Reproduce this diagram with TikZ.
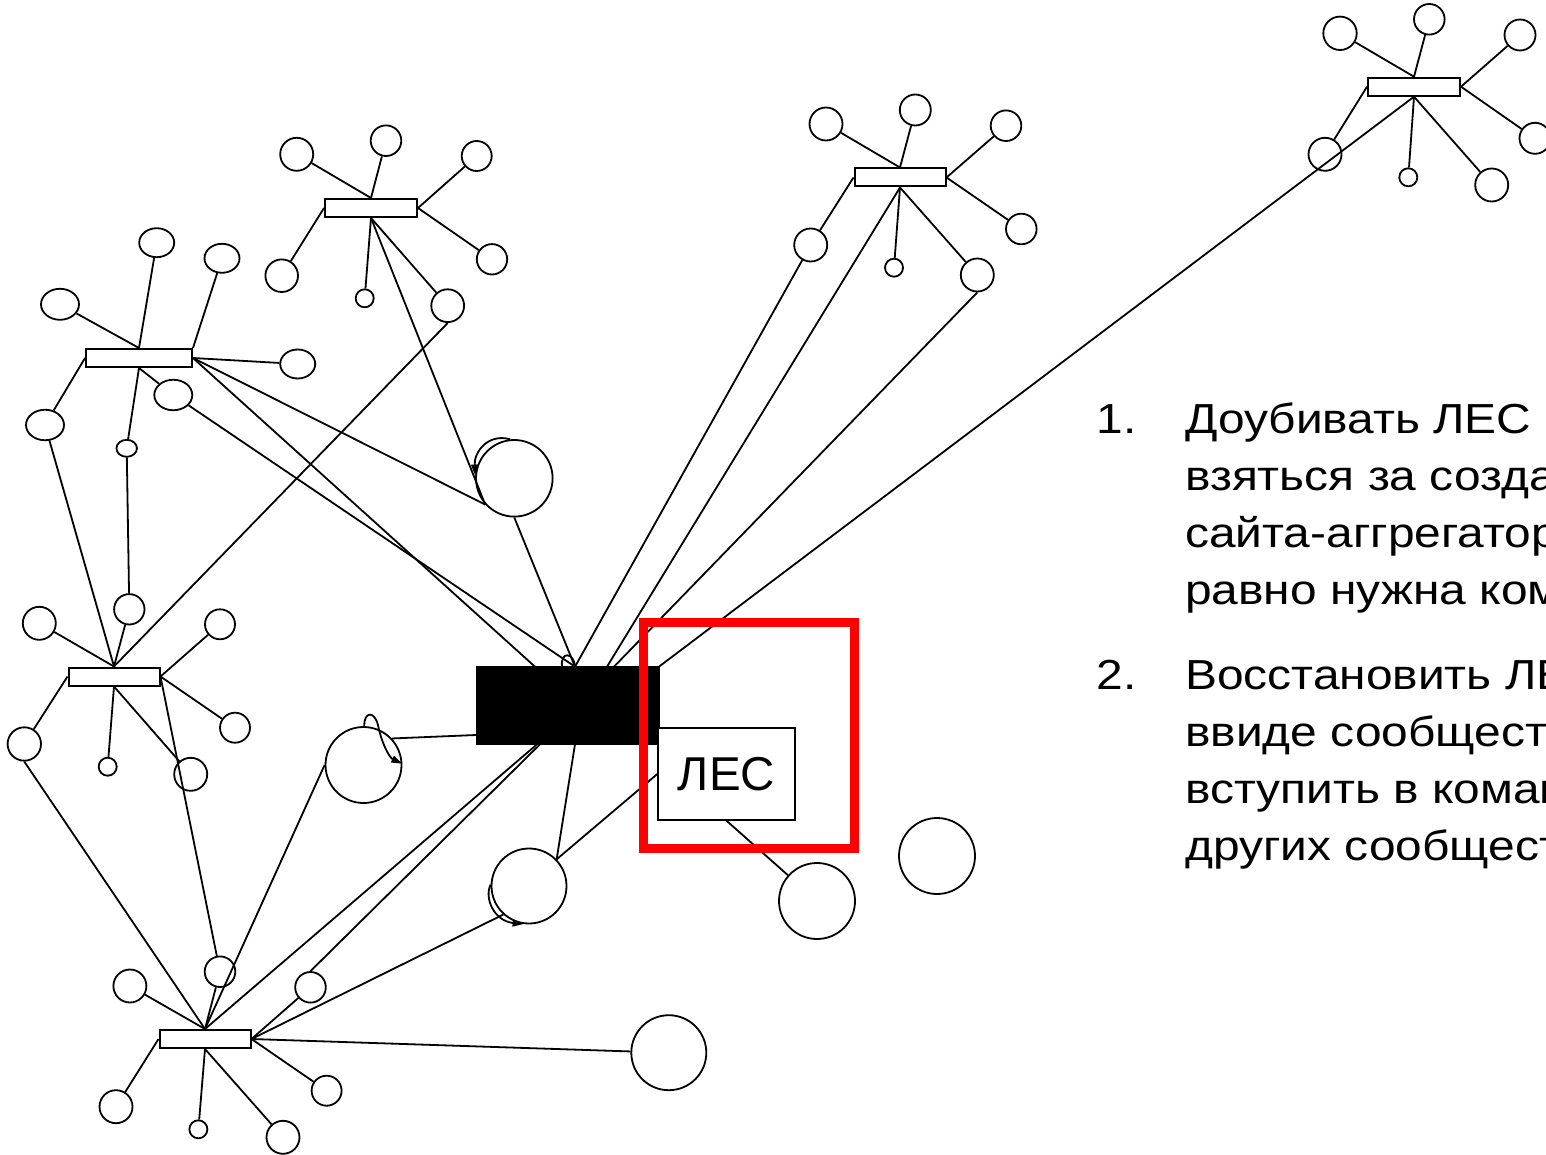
\documentclass[tikz,border=0pt]{standalone}
\usepackage{fontspec}
\setmainfont{Liberation Sans}
\newfontfamily\widesans[FakeStretch=1.14]{Liberation Sans}
\usetikzlibrary{shapes.geometric,arrows.meta,calc}
\begin{document}
\begin{tikzpicture}[x=1pt,y=-1pt,
  ln/.style={line width=1.8pt},
  hubbox/.style={draw,fill=white,line width=2pt,minimum width=#1,minimum height=18pt,inner sep=0pt},
  sat/.style={circle,draw,line width=1.8pt,minimum size=#1,inner sep=0pt},
  oval/.style 2 args={ellipse,draw,line width=1.8pt,minimum width=#1,minimum height=#2,inner sep=0pt},
  loopln/.style={line width=1.8pt,-{Triangle[length=11pt,width=7pt]}},
  txt/.style={anchor=base west,inner sep=0pt,font=\widesans\fontsize{42}{50}\selectfont},
]
\useasboundingbox (0,0) rectangle (1546,1155);
\clip (0,0) rectangle (1546,1155);
\fill[white] (0,0) rectangle (1546,1155);

% ---- hub H1 ----
\node[hubbox=92] (H1) at (371,208) {};
\node[sat=33]   (h1a) at (296.7,154.3) {};
\node[sat=30.6] (h1b) at (386,140.7) {};
\node[sat=30]   (h1c) at (476.7,156) {};
\node[sat=30.4] (h1d) at (492,259.3) {};
\node[sat=32.6] (h1e) at (281.7,275.7) {};
\node[sat=18]   (h1f) at (364.7,298.3) {};
\node[sat=32.8] (h1g) at (447.7,305.7) {};
% ---- hub H2 ----
\node[hubbox=106] (H2) at (139,358) {};
\node[oval={38}{31}]     (h2a) at (60,304.3) {};
\node[oval={35}{29}]     (h2b) at (156.7,242.7) {};
\node[oval={35}{29}]     (h2c) at (222,258.3) {};
\node[oval={35}{29}]     (h2d) at (297.7,364) {};
\node[oval={38}{30.5}]   (h2e) at (45,425) {};
\node[oval={20.5}{17}]   (h2f) at (126.7,448.3) {};
\node[oval={38}{30.5}]   (h2g) at (173.3,395) {};
% ---- hub H3 ----
\node[hubbox=91] (H3) at (114,676.5) {};
\node[sat=33]   (h3a) at (39.3,623.3) {};
\node[sat=30.4] (h3b) at (129.3,609.3) {};
\node[sat=30]   (h3c) at (220,624.3) {};
\node[sat=30]   (h3d) at (235,727.7) {};
\node[sat=33.4] (h3e) at (24.3,744) {};
\node[sat=18]   (h3f) at (107.7,766.7) {};
\node[sat=33]   (h3g) at (190.7,774.3) {};
% ---- hub H4 ----
\node[hubbox=91] (H4) at (205,1039) {};
\node[sat=33]   (h4a) at (129.9,986) {};
\node[sat=30.6] (h4b) at (220,971.7) {};
\node[sat=30.6] (h4c) at (310.5,987.3) {};
\node[sat=30]   (h4d) at (326.6,1090.7) {};
\node[sat=33]   (h4e) at (116,1106.7) {};
\node[sat=18]   (h4f) at (198.4,1129.3) {};
\node[sat=33]   (h4g) at (283,1137.3) {};
% ---- hub H5 ----
\node[hubbox=92] (H5) at (1414,86.7) {};
\node[sat=33.4] (h5a) at (1340,33.3) {};
\node[sat=30.6] (h5b) at (1429.3,19.3) {};
\node[sat=31]   (h5c) at (1520,35) {};
\node[sat=31]   (h5d) at (1535,138.3) {};
\node[sat=33]   (h5e) at (1325,154.3) {};
\node[sat=18]   (h5f) at (1408.3,177.3) {};
\node[sat=33]   (h5g) at (1491.7,185) {};
% ---- hub H6 ----
\node[hubbox=91] (H6) at (900,177.5) {};
\node[sat=33]   (h6a) at (826,124) {};
\node[sat=31]   (h6b) at (915.3,110) {};
\node[sat=30.6] (h6c) at (1006,125.7) {};
\node[sat=30.6] (h6d) at (1021.3,229) {};
\node[sat=33]   (h6e) at (810.7,245) {};
\node[sat=18]   (h6f) at (894,267.7) {};
\node[sat=33]   (h6g) at (977.3,275) {};
% ---- big circles ----
\node[sat=76.6] (C) at (514.3,478.3) {};
\node[sat=75]   (D) at (529,886) {};
\node[sat=76]   (E) at (817,901) {};
\node[sat=76]   (F) at (937,856) {};
\node[sat=76]   (G) at (363.5,765) {};
\node[sat=75]   (H) at (668.8,1052.7) {};
% ---- central block and label ----
\node[fill=black,draw=black,line width=0.5pt,minimum width=183pt,minimum height=77.6pt,inner sep=0pt] (B) at (567.5,705.5) {};
\node[draw,fill=white,line width=1.4pt,minimum width=137pt,minimum height=92pt,inner sep=0pt,font=\fontsize{47.5}{47.5}\selectfont] (L) at (726.5,774) {ЛЕС};

\coordinate (Bn0) at (562,666.7);
\coordinate (Bn1) at (535,666.7);
\coordinate (Bn2) at (575,666.7);
\coordinate (Bn3) at (607,666.7);
\coordinate (Bn4) at (614,666.7);
\coordinate (Bs1) at (537,744.3);
\coordinate (Bs2) at (540,744.3);
\coordinate (Bs3) at (575,744.3);
\coordinate (Bw1) at (476,735);

% ---- spokes ----
\draw[ln] (h1a) -- (H1.north) (h1b) -- (H1.north) (h1c) -- (H1.east) (h1d) -- (H1.east)
          (h1e) -- (H1.west) (h1f) -- (H1.south) (h1g) -- (H1.south);
\draw[ln] (h2a) -- (H2.north) (h2b) -- (H2.north) (h2c) -- (H2.north east) (h2d) -- (H2.east)
          (h2e) -- (H2.west) (h2f) -- (H2.south) (h2g) -- (H2.south);
\draw[ln] (h3a) -- (H3.north) (h3b) -- (H3.north) (h3c) -- (H3.east) (h3d) -- (H3.east)
          (h3e) -- (H3.west) (h3f) -- (H3.south) (h3g) -- (H3.south);
\draw[ln] (h4a) -- (H4.north) (h4b) -- (H4.north) (h4c) -- (H4.east) (h4d) -- (H4.east)
          (h4e) -- (H4.west) (h4f) -- (H4.south) (h4g) -- (H4.south);
\draw[ln] (h5a) -- (H5.north) (h5b) -- (H5.north) (h5c) -- (H5.east) (h5d) -- (H5.east)
          (h5e) -- (H5.west) (h5f) -- (H5.south) (h5g) -- (H5.south);
\draw[ln] (h6a) -- (H6.north) (h6b) -- (H6.north) (h6c) -- (H6.east) (h6d) -- (H6.east)
          (h6e) -- (H6.west) (h6f) -- (H6.south) (h6g) -- (H6.south);

% ---- cross links ----
\draw[ln] (H1.south) -- (C.222);
\draw[ln] (H2.east) -- (C.222);
\draw[ln] (C.south) -- (Bn2);
\draw[ln] (h2g) -- (Bn2);
\draw[ln] (H2.east) -- (Bn1);
\draw[ln] (h1g.south) -- (H3.north);
\draw[ln] (h2e) -- (H3.north);
\draw[ln] (h2f) -- (h3b);
\draw[ln] (H3.east) -- (h4b);
\draw[ln] (h3e.south) -- (H4.north);
\draw[ln] (G.180) -- (H4.north);
\draw[ln] (Bs1) -- (H4.north);
\draw[ln] (Bs2) -- (h4c.north);
\draw[ln] (D.228) -- (H4.east);
\draw[ln] (H) -- (H4.east);
\draw[ln] (G.43) -- (Bw1);
\draw[ln] (Bs3) -- (D.44);
\draw[ln] (D.44) -- (L.west);
\draw[ln] (L.south) -- (E);
\draw[ln] (h6e) -- (Bn2);
\draw[ln] (H6.south) -- (Bn3);
\draw[ln] (h6g.south) -- (Bn4);
\draw[ln] (H5.south) -- (B.north east);

% ---- loops ----
\draw[loopln] (C.96) .. controls (488,433) and (474,452) .. (C.176);
\draw[loopln] (G.89) .. controls (364,712) and (374,710) .. (378,725) .. controls (382,745) and (390,758) .. (G.2);
\draw[loopln] (D.178) .. controls (484,898) and (494,921) .. (D.262);
\draw[ln] (Bn0) .. controls (560,651) and (574,652) .. (Bn2);

% ---- red frame ----
\node[draw=red,line width=8.5pt,minimum width=210.8pt,minimum height=226pt,inner sep=0pt] (R) at (748.9,735.5) {};

% ---- text ----
\node[txt] (n1)  at (1096.5,433) {1.};
\node[txt] (t1a) at (1185,433) {Доубивать ЛЕС};
\node[txt] (t1b) at (1185,490.5) {взяться за создание};
\node[txt] (t1c) at (1185,547.5) {сайта-аггрегатора};
\node[txt] (t1d) at (1185,604.5) {равно нужна команда};
\node[txt] (n2)  at (1096.5,689) {2.};
\node[txt] (t2a) at (1185,689) {Восстановить ЛЕС};
\node[txt] (t2b) at (1185,746) {ввиде сообщества};
\node[txt] (t2c) at (1185,803) {вступить в команду};
\node[txt] (t2d) at (1185,860) {других сообществ};
\end{tikzpicture}
\end{document}
